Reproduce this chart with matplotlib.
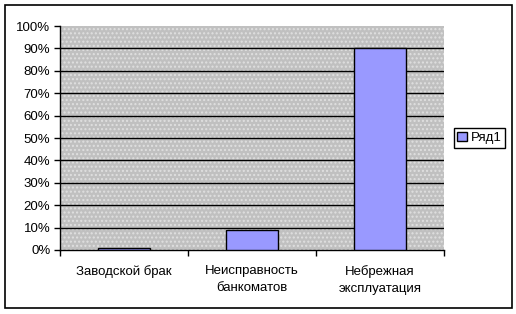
import matplotlib.pyplot as plt
from matplotlib.patches import Rectangle
from matplotlib.ticker import FixedLocator, PercentFormatter

plt.rcParams['font.family'] = ['Liberation Sans', 'DejaVu Sans']

categories = ["Заводской брак", "Неисправность\nбанкоматов", "Небрежная\nэксплуатация"]
values = [1, 9, 90]
series_name = "Ряд1"

fig = plt.figure(figsize=(5.16, 3.14), dpi=100)
ax = fig.add_axes([60 / 516, 1 - 250 / 314, 384 / 516, 224 / 314])
ax.set_facecolor('#c0c0c0')

# dotted pattern over plot area, like Excel fill
ax.add_patch(Rectangle((0, 0), 1, 1, transform=ax.transAxes, facecolor='none',
                       edgecolor='#e0e0e0', hatch='....', linewidth=0, zorder=0.5))

x = range(len(categories))
ax.bar(x, values, width=0.4, color='#9999ff', edgecolor='black', linewidth=1,
       zorder=3, label=series_name)

ax.set_xlim(-0.5, 2.5)
ax.set_ylim(0, 100)
ax.yaxis.set_major_locator(FixedLocator(range(0, 101, 10)))
ax.yaxis.set_major_formatter(PercentFormatter(decimals=0))
for yv in range(10, 100, 10):
    ax.axhline(yv, color='black', linewidth=1, zorder=2)

ax.xaxis.set_major_locator(FixedLocator([-0.5, 0.5, 1.5, 2.5]))
ax.xaxis.set_major_formatter(plt.NullFormatter())
ax.xaxis.set_minor_locator(FixedLocator(list(x)))
ax.set_xticklabels(categories, minor=True, linespacing=1.55)
ax.tick_params(axis='x', which='major', length=4, width=1, color='black')
ax.tick_params(axis='x', which='minor', length=0, pad=11, labelsize=9.5)
ax.tick_params(axis='y', length=4, width=1, labelsize=9.5, pad=3)

ax.spines['top'].set_visible(False)
ax.spines['right'].set_visible(False)
ax.spines['left'].set_linewidth(1)
ax.spines['bottom'].set_linewidth(1)

leg = fig.legend(loc='center', bbox_to_anchor=(479.5 / 516, 1 - 138 / 314), fontsize=9.5,
                 frameon=True, fancybox=False, edgecolor='black', framealpha=1,
                 handlelength=0.7, handleheight=0.7, handletextpad=0.3,
                 borderpad=0.3, borderaxespad=0)
leg.get_frame().set_linewidth(1)

# outer chart border
fig.add_artist(Rectangle((5 / 516, 1 - 308 / 314), 507 / 516, 303 / 314,
                         transform=fig.transFigure, fill=False, edgecolor='black',
                         linewidth=1.2))

fig.savefig("out.png", dpi=100)
